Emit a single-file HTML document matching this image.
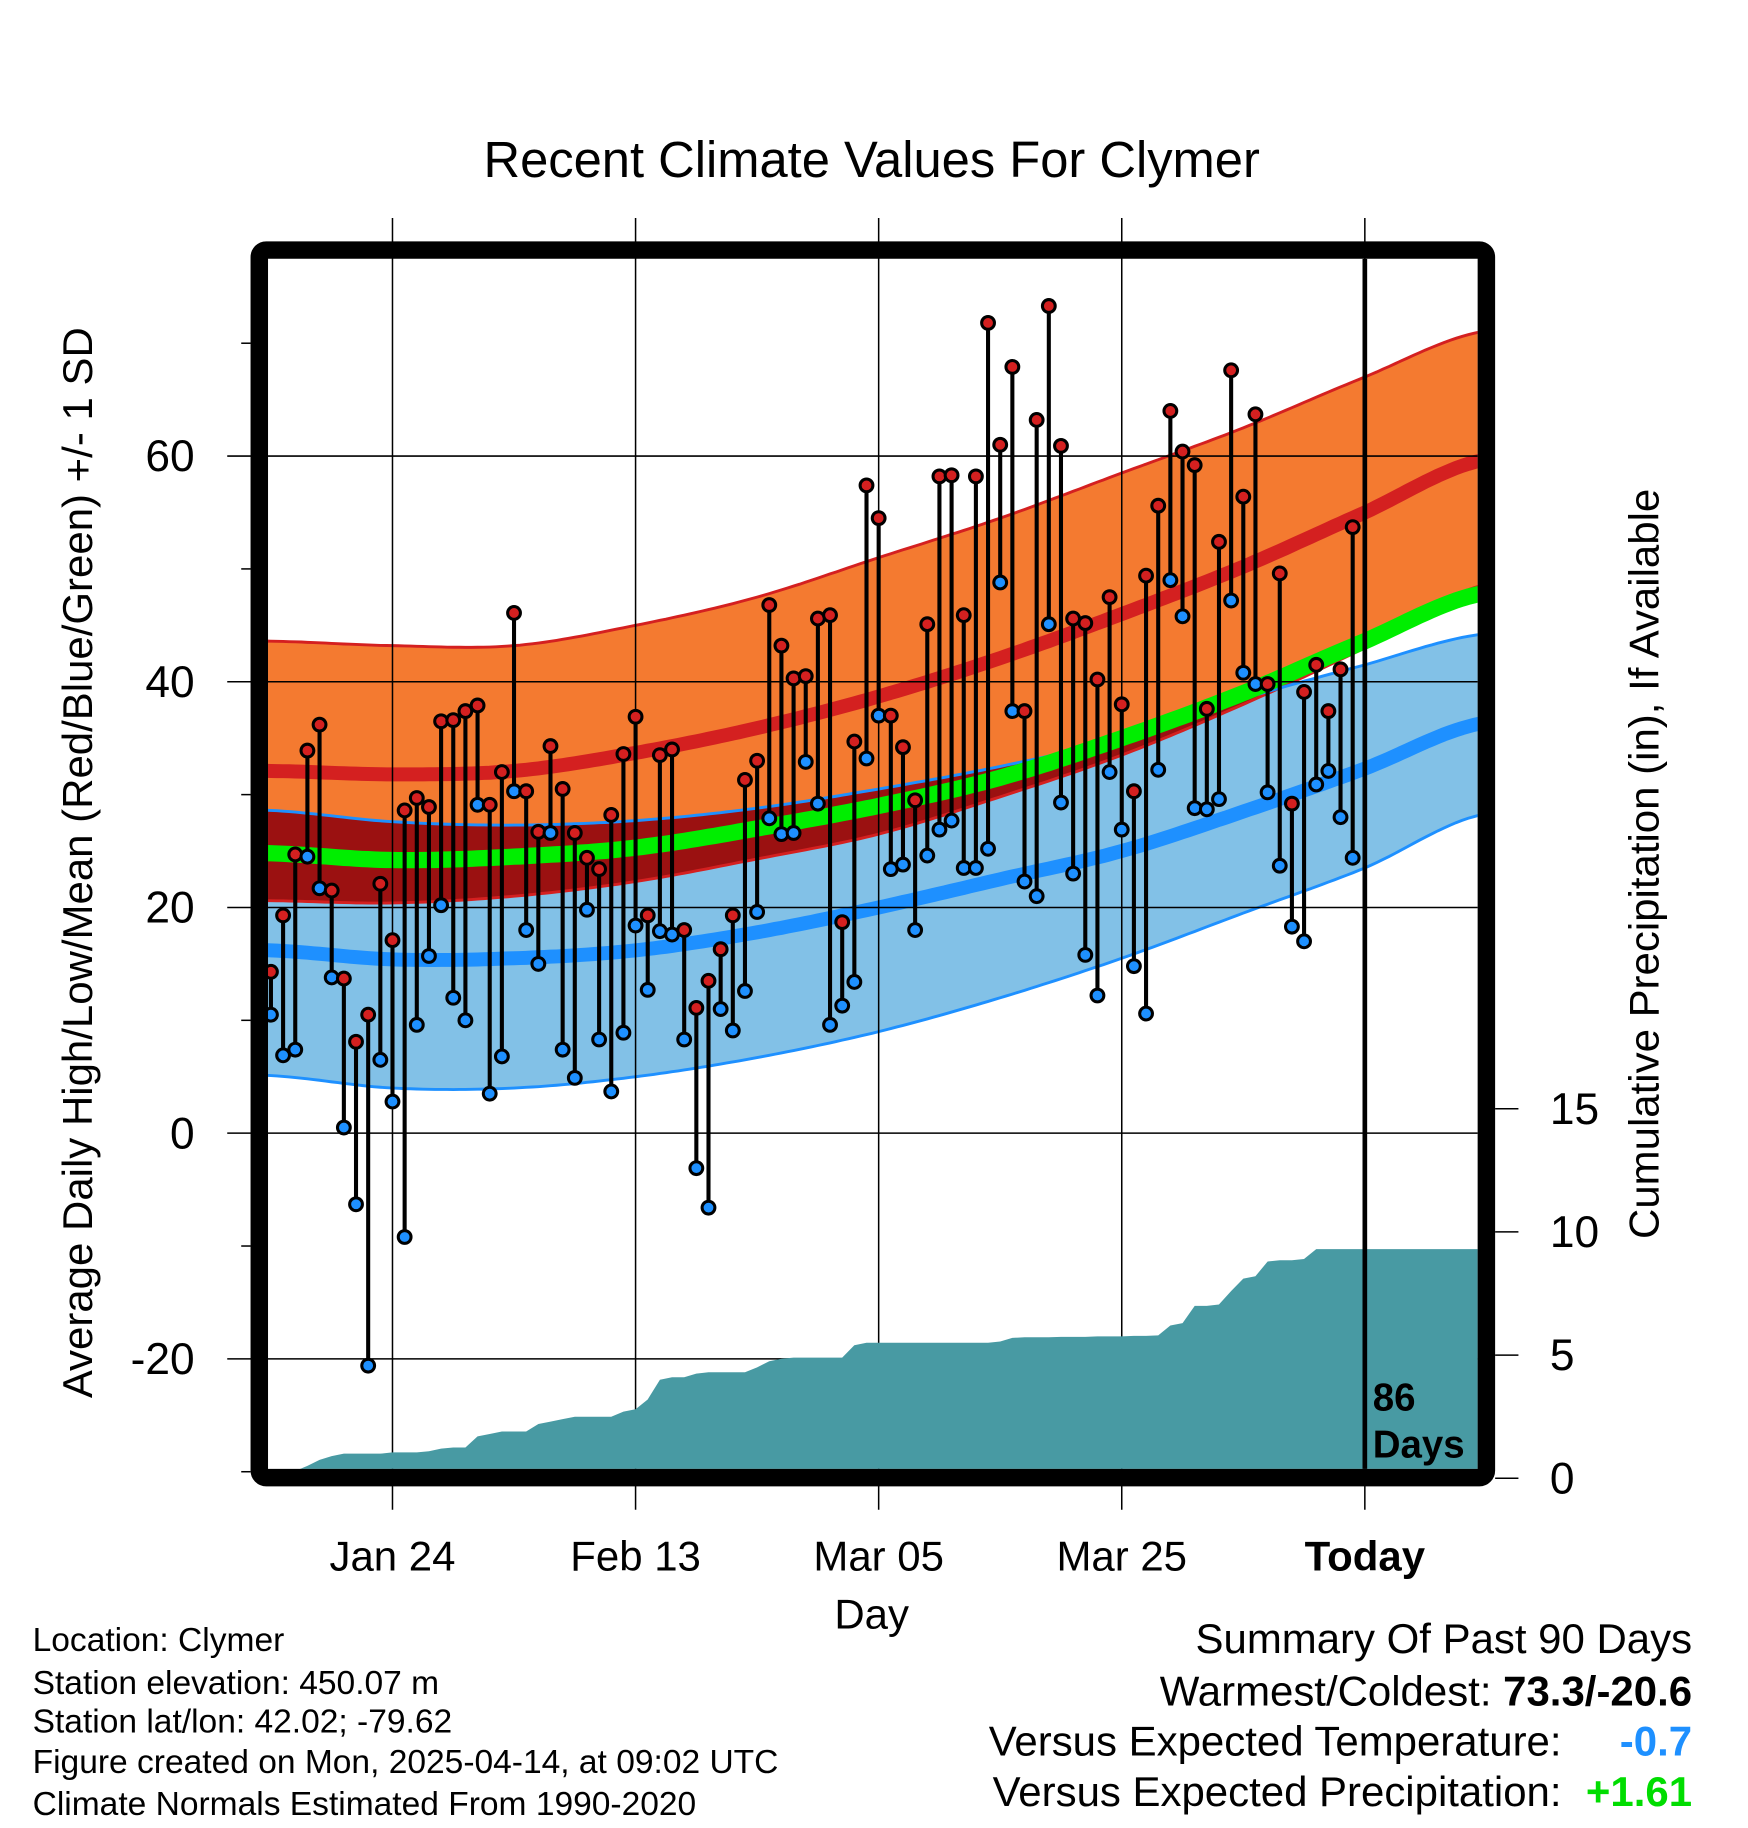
<!DOCTYPE html>
<html><head><meta charset="utf-8">
<style>
html,body{margin:0;padding:0;background:#fff;}
svg{display:block;font-family:"Liberation Sans",Arial,sans-serif;}
</style></head>
<body>
<svg id="chart" width="1748" height="1828" viewBox="0 0 1500 1568" preserveAspectRatio="none" xmlns="http://www.w3.org/2000/svg">
<defs>
<clipPath id="plotClip"><rect x="230" y="222" width="1038" height="1038"/></clipPath>
</defs>
<text x="748" y="152" font-size="43.5" text-anchor="middle">Recent Climate Values For Clymer</text>
<g id="bands" clip-path="url(#plotClip)"></g>
<g id="grid"></g>
<g id="precip" clip-path="url(#plotClip)"></g>
<g id="temps" clip-path="url(#plotClip)"></g>
<g id="axes"></g>
<rect x="222.5" y="214.5" width="1053" height="1053" rx="6" fill="none" stroke="#000" stroke-width="15"/>
<text font-size="33" font-weight="bold" x="1178" y="1210">86</text>
<text font-size="33" font-weight="bold" x="1178" y="1250">Days</text>
<text x="748" y="1397" font-size="36" text-anchor="middle">Day</text>
<text transform="translate(79,740) rotate(-90)" font-size="36" text-anchor="middle">Average Daily High/Low/Mean (Red/Blue/Green) +/- 1 SD</text>
<text transform="translate(1423,741) rotate(-90)" font-size="36" text-anchor="middle">Cumulative Precipitation (in), If Available</text>
<g font-size="28.8">
<text x="28" y="1416">Location: Clymer</text>
<text x="28" y="1453">Station elevation: 450.07 m</text>
<text x="28" y="1486">Station lat/lon: 42.02; -79.62</text>
<text x="28" y="1521">Figure created on Mon, 2025-04-14, at 09:02 UTC</text>
<text x="28" y="1557">Climate Normals Estimated From 1990-2020</text>
</g>
<g font-size="36">
<text x="1452" y="1418" text-anchor="end">Summary Of Past 90 Days</text>
<text x="1452" y="1463" text-anchor="end">Warmest/Coldest: <tspan font-weight="bold">73.3/-20.6</tspan></text>
<text x="1340" y="1506" text-anchor="end">Versus Expected Temperature:</text>
<text x="1452" y="1506" text-anchor="end" font-weight="bold" fill="#1e90ff">-0.7</text>
<text x="1340" y="1549" text-anchor="end">Versus Expected Precipitation:</text>
<text x="1452" y="1549" text-anchor="end" font-weight="bold" fill="#00dd00">+1.61</text>
</g>
</svg>
<script>
// ---- data ----
const highs=[14.3,19.3,24.7,33.9,36.2,21.5,13.7,8.1,10.5,22.1,17.1,28.6,29.7,28.9,36.5,36.6,37.4,37.9,29.1,32.0,46.1,30.3,26.7,34.3,30.5,26.6,24.4,23.4,28.2,33.6,36.9,19.3,33.5,34.0,18.0,11.1,13.5,16.3,19.3,31.3,33.0,46.8,43.2,40.3,40.5,45.6,45.9,18.7,34.7,57.4,54.5,37.0,34.2,29.5,45.1,58.2,58.3,45.9,58.2,71.8,61.0,67.9,37.4,63.2,73.3,60.9,45.6,45.2,40.2,47.5,38.0,30.3,49.4,55.6,64.0,60.4,59.2,37.6,52.4,67.6,56.4,63.7,39.8,49.6,29.2,39.1,41.5,37.4,41.1,53.7];
const lows=[10.5,6.9,7.4,24.5,21.7,13.8,0.5,-6.3,-20.6,6.5,2.8,-9.2,9.6,15.7,20.2,12.0,10.0,29.1,3.5,6.8,30.3,18.0,15.0,26.6,7.4,4.9,19.8,8.3,3.7,8.9,18.4,12.7,17.9,17.6,8.3,-3.1,-6.6,11.0,9.1,12.6,19.6,27.9,26.5,26.6,32.9,29.2,9.6,11.3,13.4,33.2,37.0,23.4,23.8,18.0,24.6,26.9,27.7,23.5,23.5,25.2,48.8,37.4,22.3,21.0,45.1,29.3,23.0,15.8,12.2,32.0,26.9,14.8,10.6,32.2,49.0,45.8,28.8,28.7,29.6,47.2,40.8,39.8,30.2,23.7,18.3,17.0,30.9,32.1,28.0,24.4];
const precip=[0,0.1,0.3,0.5,0.75,0.9,1.0,1.0,1.0,1.0,1.05,1.05,1.05,1.1,1.2,1.25,1.25,1.7,1.8,1.9,1.9,1.9,2.2,2.3,2.4,2.5,2.5,2.5,2.5,2.7,2.8,3.2,4.0,4.1,4.1,4.25,4.3,4.3,4.3,4.3,4.5,4.75,4.85,4.9,4.9,4.9,4.9,4.9,5.4,5.5,5.5,5.5,5.5,5.5,5.5,5.5,5.5,5.5,5.5,5.5,5.55,5.7,5.72,5.72,5.72,5.74,5.74,5.74,5.76,5.76,5.76,5.78,5.78,5.8,6.2,6.3,7.0,7.0,7.05,7.6,8.1,8.2,8.8,8.85,8.85,8.9,9.3,9.3,9.3,9.3];
const normDays=[0,10,20,30,40,50,60,70,80,90,99.5];
const highUpper=[43.6,43.2,43.2,45.0,47.5,51.0,54.5,58.5,62.5,67.0,71.0];
const highMean=[32.1,31.8,32.1,33.7,35.9,38.7,42.1,46.0,50.2,55.0,59.6];
const highLower=[20.6,20.4,21.0,22.3,24.3,26.5,29.8,33.5,38.0,43.0,48.5];
const lowUpper=[28.6,27.6,27.3,27.7,28.8,30.5,32.5,35.0,38.5,41.5,44.2];
const lowMean=[16.2,15.4,15.5,16.2,17.8,20.0,22.5,25.0,28.5,32.3,36.3];
const lowLower=[5.1,4.0,4.0,5.0,6.7,9.0,12.0,15.5,19.5,23.5,28.2];
const meanNorm=[24.8,24.2,24.5,25.3,27.0,29.0,31.5,35.0,39.0,43.6,47.8];
const xTickDays=[10,30,50,70,90];
const xTickLabels=["Jan 24","Feb 13","Mar 05","Mar 25","Today"];
const yTicks=[60,40,20,0,-20];
const yMinor=[70,50,30,10,-10,-30];
const pTicks=[0,5,10,15];
// ---- scales ----
const X=d=>232.5+10.43*d;
const Y=v=>972-9.68*v;
const P=p=>1268-21.13*p;
const NS="http://www.w3.org/2000/svg";
function mk(tag,attrs,parent){const e=document.createElementNS(NS,tag);for(const k in attrs)e.setAttribute(k,attrs[k]);parent.appendChild(e);return e;}
function interp(arr,d){let i=0;while(i<normDays.length-2&&d>normDays[i+1])i++;
 const p0=arr[Math.max(i-1,0)],p1=arr[i],p2=arr[i+1],p3=arr[Math.min(i+2,arr.length-1)];
 const t=(d-normDays[i])/(normDays[i+1]-normDays[i]);
 return 0.5*((2*p1)+(-p0+p2)*t+(2*p0-5*p1+4*p2-p3)*t*t+(-p0+3*p1-3*p2+p3)*t*t*t);}
const samples=[];for(let d=-1;d<=100;d+=0.5)samples.push(d);
function linePts(arr){return samples.map(d=>X(d).toFixed(1)+","+Y(interp(arr,d)).toFixed(1));}
function areaD(up,lo){const a=linePts(up),b=linePts(lo).reverse();return "M"+a.join("L")+"L"+b.join("L")+"Z";}
const bands=document.getElementById('bands');
const defs=document.querySelector('defs');
const cp=mk('clipPath',{id:'blueClip'},defs);
mk('path',{d:areaD(lowUpper,lowLower)},cp);
let e;
e=mk('path',{d:areaD(highUpper,highLower),fill:'#f47a30'},bands);


e=mk('path',{d:areaD(lowUpper,lowLower),fill:'#82c1e7'},bands);


e=mk('path',{d:areaD(highUpper,highLower),fill:'#9b1111','clip-path':'url(#blueClip)'},bands);


function pl(arr,color,w,name){const el=mk('polyline',{points:linePts(arr).join(' '),fill:'none',stroke:color,'stroke-width':w},bands);
 
 }
pl(highUpper,'#d42020',2.5,'high-upper-edge');
pl(highLower,'#d42020',2.5,'high-lower-edge');
pl(lowUpper,'#1e90ff',2.5,'low-upper-edge');
pl(lowLower,'#1e90ff',2.5,'low-lower-edge');
pl(lowMean,'#1e90ff',12,'low-normal-line');
pl(highMean,'#d42020',12,'high-normal-line');
pl(meanNorm,'#00ee00',14,'mean-normal-line');
// grid
const grid=document.getElementById('grid');
yTicks.forEach(v=>{e=mk('line',{x1:195,x2:1268,y1:Y(v),y2:Y(v),stroke:'#000','stroke-width':1.3},grid);
 
 });
xTickDays.forEach((d,i)=>{
 e=mk('line',{x1:X(d),x2:X(d),y1:187,y2:1295,stroke:'#000','stroke-width':1.3},grid);
 
 });
// precip
const pg=document.getElementById('precip');
let pd="M"+X(-1)+","+P(0);
precip.forEach((p,i)=>{pd+="L"+X(i).toFixed(1)+","+P(p).toFixed(1);});
pd+="L1270,"+P(precip[precip.length-1]).toFixed(1)+"L1270,"+P(0)+"Z";
e=mk('path',{d:pd,fill:'#489aa3'},pg);


e=mk('line',{x1:X(90),x2:X(90),y1:222,y2:1262,stroke:'#000','stroke-width':4},pg);


// temps
const tg=document.getElementById('temps');
highs.forEach((h,i)=>{const l=lows[i];
 e=mk('line',{x1:X(i),x2:X(i),y1:Y(h),y2:Y(l),stroke:'#000','stroke-width':3.5},tg);
 
 });
highs.forEach((h,i)=>{
 e=mk('circle',{cx:X(i),cy:Y(lows[i]),r:5.5,fill:'#1e90ff',stroke:'#000','stroke-width':2.6},tg);
 
 
 e=mk('circle',{cx:X(i),cy:Y(h),r:5.5,fill:'#d42020',stroke:'#000','stroke-width':2.6},tg);
 
 });
// axes
const ax=document.getElementById('axes');
yTicks.forEach(v=>{e=mk('text',{x:167,y:Y(v)+13,'font-size':38,'text-anchor':'end'},ax);e.textContent=v;
 
 });
yMinor.forEach(v=>{e=mk('line',{x1:207,x2:215,y1:Y(v),y2:Y(v),stroke:'#000','stroke-width':1.3},ax);
 
 });
pTicks.forEach(p=>{e=mk('line',{x1:1283,x2:1303,y1:P(p),y2:P(p),stroke:'#000','stroke-width':1.3},ax);
 
 
 e=mk('text',{x:1330,y:P(p)+13,'font-size':38},ax);e.textContent=p;
 
 });
xTickLabels.forEach((t,i)=>{const today=i===xTickLabels.length-1;
 e=mk('text',{x:X(xTickDays[i]),y:1347,'font-size':36,'text-anchor':'middle','font-weight':today?'bold':'normal'},ax);e.textContent=t;
 
 });
</script>
</body></html>
